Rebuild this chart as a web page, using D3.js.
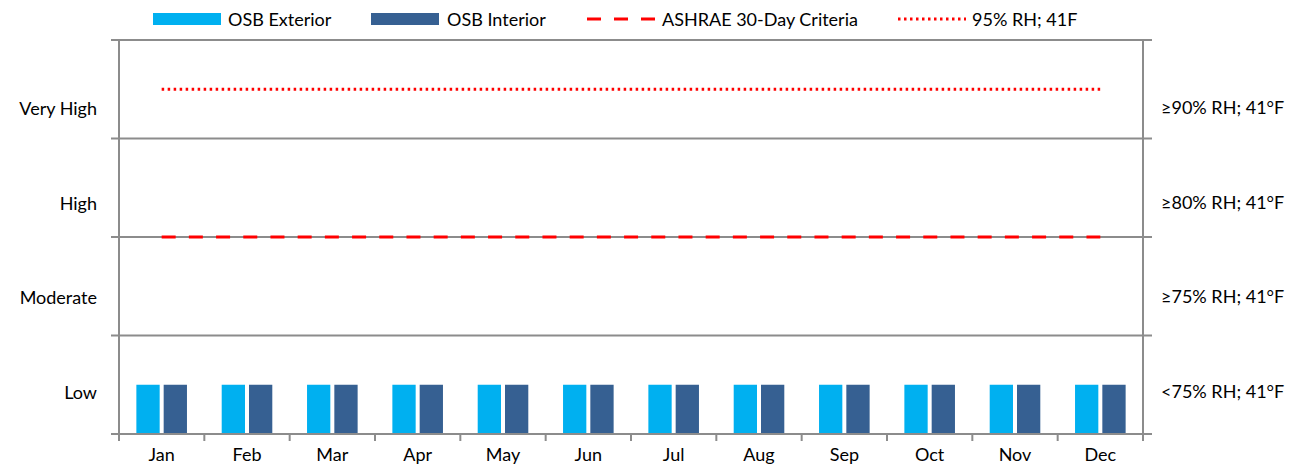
<!DOCTYPE html>
<html>
<head>
<meta charset="utf-8">
<script src="https://cdn.jsdelivr.net/npm/d3@7"></script>
<style>
  body { margin: 0; background: #fff; }
  text { font-family: Lato, "Open Sans", sans-serif; fill: #000; font-size: 18px; }
</style>
</head>
<body>
<div id="chart"></div>
<script>
// data
var months = ["Jan","Feb","Mar","Apr","May","Jun","Jul","Aug","Sep","Oct","Nov","Dec"];
var osbExterior = [0.5,0.5,0.5,0.5,0.5,0.5,0.5,0.5,0.5,0.5,0.5,0.5];
var osbInterior = [0.5,0.5,0.5,0.5,0.5,0.5,0.5,0.5,0.5,0.5,0.5,0.5];
var ashrae = [2,2,2,2,2,2,2,2,2,2,2,2];
var rh95 = [3.5,3.5,3.5,3.5,3.5,3.5,3.5,3.5,3.5,3.5,3.5,3.5];
var riskLabels = ["Low","Moderate","High","Very High"];
var rhLabels = ["<75% RH; 41°F","≥75% RH; 41°F","≥80% RH; 41°F","≥90% RH; 41°F"];

var W = 1299, H = 466;
var margin = {top: 40, right: 156, bottom: 32, left: 119};
var width = W - margin.left - margin.right,
    height = H - margin.top - margin.bottom;

var svg = d3.select("#chart").append("svg")
    .attr("width", W).attr("height", H)
  .append("g")
    .attr("transform", "translate(" + margin.left + "," + margin.top + ")");

var x = d3.scaleBand().domain(months).range([0, width]);
var y = d3.scaleLinear().domain([0, 4]).range([height, 0]);

var axisColor = "#8c8c8c";

// horizontal gridlines (band borders)
svg.selectAll(".grid")
  .data([1, 2, 3, 4])
  .enter().append("line")
    .attr("x1", -8).attr("x2", width + 9)
    .attr("y1", function(d) { return y(d); })
    .attr("y2", function(d) { return y(d); })
    .attr("stroke", axisColor).attr("stroke-width", 2);

// bars
var inner = 23.3, gap = 4;
var barOff = (x.bandwidth() - (2 * inner + gap)) / 2;
svg.selectAll(".ext")
  .data(osbExterior)
  .enter().append("rect")
    .attr("x", function(d, i) { return x(months[i]) + barOff; })
    .attr("y", function(d) { return y(d); })
    .attr("width", inner)
    .attr("height", function(d) { return height - y(d); })
    .attr("fill", "#00b0f0");
svg.selectAll(".int")
  .data(osbInterior)
  .enter().append("rect")
    .attr("x", function(d, i) { return x(months[i]) + barOff + inner + gap; })
    .attr("y", function(d) { return y(d); })
    .attr("width", inner)
    .attr("height", function(d) { return height - y(d); })
    .attr("fill", "#366092");

// lines
var line = d3.line()
    .x(function(d, i) { return x(months[i]) + x.bandwidth() / 2; })
    .y(function(d) { return y(d); });

svg.append("path").datum(ashrae)
    .attr("d", line)
    .attr("fill", "none").attr("stroke", "#ff0000")
    .attr("stroke-width", 3.2).attr("stroke-dasharray", "14,13.2");

svg.append("path").datum(rh95)
    .attr("d", line)
    .attr("fill", "none").attr("stroke", "#ff0000")
    .attr("stroke-width", 3).attr("stroke-dasharray", "2.5,3.5");

// axes
svg.append("line")
    .attr("x1", 0).attr("x2", 0).attr("y1", 0).attr("y2", height + 7)
    .attr("stroke", axisColor).attr("stroke-width", 2);
svg.append("line")
    .attr("x1", width).attr("x2", width).attr("y1", 0).attr("y2", height + 7)
    .attr("stroke", axisColor).attr("stroke-width", 2);
svg.append("line")
    .attr("x1", -8).attr("x2", width + 9).attr("y1", height).attr("y2", height)
    .attr("stroke", axisColor).attr("stroke-width", 2);

// x ticks at band boundaries
svg.selectAll(".xtick")
  .data(months)
  .enter().append("line")
    .attr("x1", function(d) { return x(d); })
    .attr("x2", function(d) { return x(d); })
    .attr("y1", height).attr("y2", height + 7)
    .attr("stroke", axisColor).attr("stroke-width", 2);

svg.selectAll(".xlabel")
  .data(months)
  .enter().append("text")
    .attr("x", function(d) { return x(d) + x.bandwidth() / 2; })
    .attr("y", height + 27)
    .attr("text-anchor", "middle")
    .text(function(d) { return d; });

// left/right band labels
var labelPos = [0.42, 1.38, 2.34, 3.3];
svg.selectAll(".ylab")
  .data(riskLabels)
  .enter().append("text")
    .attr("x", -22)
    .attr("y", function(d, i) { return y(labelPos[i]); })
    .attr("dy", "0.35em")
    .attr("text-anchor", "end")
    .text(function(d) { return d; });

svg.selectAll(".rlab")
  .data(rhLabels)
  .enter().append("text")
    .attr("x", width + 18)
    .attr("y", function(d, i) { return y(labelPos[i]) - 1; })
    .attr("dy", "0.35em")
    .text(function(d) { return d; });

// legend
var legend = d3.select("svg").append("g");
legend.append("rect").attr("x", 153).attr("y", 13).attr("width", 68).attr("height", 12).attr("fill", "#00b0f0");
legend.append("text").attr("x", 228).attr("y", 26).text("OSB Exterior");
legend.append("rect").attr("x", 371).attr("y", 13).attr("width", 68).attr("height", 12).attr("fill", "#366092");
legend.append("text").attr("x", 447).attr("y", 26).text("OSB Interior");
legend.append("line").attr("x1", 585).attr("x2", 655).attr("y1", 19).attr("y2", 19)
    .attr("stroke", "#ff0000").attr("stroke-width", 3.2).attr("stroke-dasharray", "14,13").attr("stroke-dashoffset", -2);
legend.append("text").attr("x", 662).attr("y", 26).text("ASHRAE 30-Day Criteria");
legend.append("line").attr("x1", 898).attr("x2", 966).attr("y1", 19).attr("y2", 19)
    .attr("stroke", "#ff0000").attr("stroke-width", 3).attr("stroke-dasharray", "2.5,3.5");
legend.append("text").attr("x", 972).attr("y", 26).text("95% RH; 41F");
</script>
</body>
</html>
